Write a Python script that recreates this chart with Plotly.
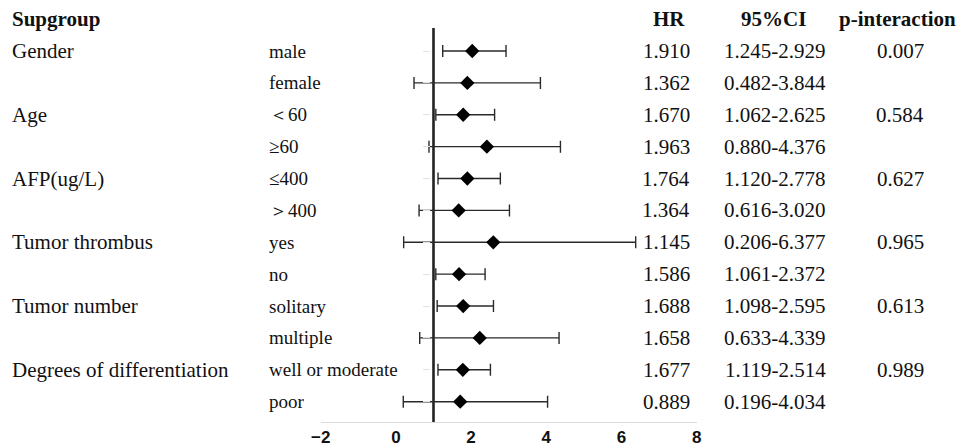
import plotly.graph_objects as go

# ---- data ----
groups = ["Gender", "", "Age", "", "AFP(ug/L)", "", "Tumor thrombus", "",
          "Tumor number", "", "Degrees of differentiation", ""]
subgroups = ["male", "female", "＜60", "≥60", "≤400", "＞400", "yes", "no",
             "solitary", "multiple", "well or moderate", "poor"]
hr_text = ["1.910", "1.362", "1.670", "1.963", "1.764", "1.364", "1.145", "1.586",
           "1.688", "1.658", "1.677", "0.889"]
ci_low = [1.245, 0.482, 1.062, 0.880, 1.120, 0.616, 0.206, 1.061, 1.098, 0.633, 1.119, 0.196]
ci_high = [2.929, 3.844, 2.625, 4.376, 2.778, 3.020, 6.377, 2.372, 2.595, 4.339, 2.514, 4.034]
p_interaction = ["0.007", "", "0.584", "", "0.627", "", "0.965", "", "0.613", "", "0.989", ""]
# diamond positions as drawn in the figure
point_est = [2.03, 1.90, 1.79, 2.42, 1.90, 1.67, 2.59, 1.68, 1.79, 2.23, 1.78, 1.71]
x_ticks = [-2, 0, 2, 4, 6, 8]
null_value = 1

rows = list(range(len(subgroups)))
W, H = 963, 448
SERIF = "Liberation Serif"
TXT = "#111111"


def xp(px):
    return px / W


def yp(py):
    return py / H


row0_px, row_step = 51, 31.88


def yv(py):
    return (py - row0_px) / row_step


fig = go.Figure()

# null line
fig.add_trace(go.Scatter(x=[null_value, null_value], y=[yv(28), yv(423)], mode="lines",
                         line=dict(color="#222222", width=2.6), hoverinfo="skip",
                         showlegend=False))

# estimates + CI
fig.add_trace(go.Scatter(
    x=point_est, y=rows, mode="markers",
    marker=dict(symbol="diamond", size=11, color="black"),
    error_x=dict(type="data", symmetric=False,
                 array=[h - p for h, p in zip(ci_high, point_est)],
                 arrayminus=[p - l for l, p in zip(ci_low, point_est)],
                 color="#2a2a2a", thickness=1.4, width=6),
    showlegend=False))

ann = []


def add(text, xpx, y, anchor="left", bold=False, size=21):
    ann.append(dict(text=("<b>%s</b>" % text) if bold else text, x=xp(xpx), xref="paper",
                    y=y, yref="y", xanchor=anchor, yanchor="middle", showarrow=False,
                    borderpad=0, borderwidth=0,
                    font=dict(family=SERIF, size=size, color=TXT)))


hy = yv(19)
add("Supgroup", 12, hy, bold=True)
add("HR", 669, hy, "center", bold=True)
add("95%CI", 773, hy, "center", bold=True)
add("p-interaction", 897, hy, "center", bold=True)

for i in rows:
    if groups[i]:
        add(groups[i], 12, i)
    add(subgroups[i], 269, i, size=19)
    add(hr_text[i], 666, i, "center")
    add("%.3f-%.3f" % (ci_low[i], ci_high[i]), 775, i, "center")
    if p_interaction[i]:
        add(p_interaction[i], 900, i, "center")

fig.update_layout(
    width=W, height=H, margin=dict(l=0, r=0, t=0, b=0, pad=0, autoexpand=False),
    paper_bgcolor="white", plot_bgcolor="white", annotations=ann,
    xaxis=dict(domain=[xp(320.7), xp(696.7)], range=[-2, 8], tickvals=x_ticks,
               showgrid=False, zeroline=False, showline=True, linecolor="#dcdcdc",
               linewidth=1, anchor="free", position=1 - yp(421.7), automargin=False,
               ticks="", ticklabelstandoff=0,
               tickfont=dict(family="Liberation Sans", size=17, color="#111",
                             weight="bold")),
    yaxis=dict(domain=[0, 1],
               range=[yv(H), yv(0)], automargin=False,
               showgrid=False, zeroline=False, showticklabels=False, showline=False,
               tickvals=rows, ticks="outside", ticklen=7, tickcolor="#e2e2e2",
               anchor="free", position=xp(430)),
)

fig.write_html("out.html", config={"displayModeBar": False},
               post_script="document.body.style.margin='0';document.body.style.overflow='hidden';")
